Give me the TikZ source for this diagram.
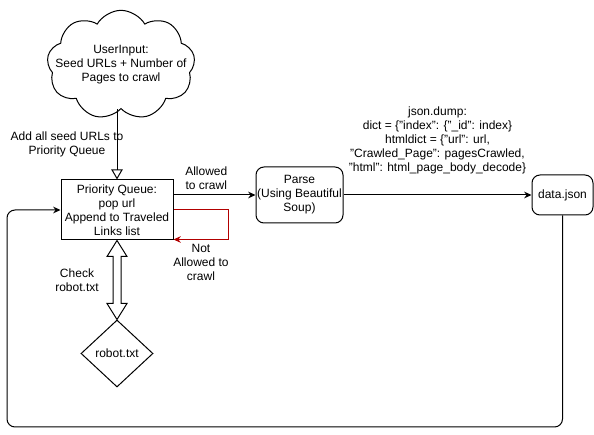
\documentclass[tikz,border=0pt]{standalone}
\usepackage{fontspec}
\setmainfont{Liberation Sans}
\usetikzlibrary{shapes.geometric,shapes.symbols,arrows.meta,calc,positioning}
\tikzset{
  box/.style={draw, fill=white, inner sep=1pt},
  roundbox/.style={box, rounded corners=6pt, inner sep=0pt},
  cloudbox/.style={cloud, draw, cloud puffs=9, cloud puff arc=120, cloud ignores aspect,
    minimum width=111pt, minimum height=82pt, inner sep=0pt},
  check/.style={diamond, draw, inner sep=0pt},
  flow/.style={-{Stealth[length=5.5pt,width=5pt]}},
  seed/.style={-{Triangle[open,length=7.5pt,width=8.5pt]}},
  deny/.style={flow, draw=cdeny},
  hollow/.style={draw, line join=miter},
}
\begin{document}
\begin{tikzpicture}[x=0.75pt,y=-0.75pt,line width=0.75pt,
  every node/.style={font=\fontsize{9}{10.5}\selectfont, align=center}]
%
\useasboundingbox (0,0) rectangle (594,435);
%
\definecolor{cdeny}{rgb}{0.7,0.0,0.0}
%
\node[cloudbox, label={center:{UserInput:\\Seed URLs + Number of\\Pages to crawl}}] (input) at (121,65) {};
\node[box, minimum width=84pt, minimum height=45pt] (queue) at (117,210) {Priority Queue:\\pop url\\Append to Traveled\\Links list};
\node[roundbox, minimum width=65.25pt, minimum height=42pt] (parse) at (299.5,195) {Parse\\(Using Beautiful\\Soup)};
\node[roundbox, minimum width=45.75pt, minimum height=30pt] (data) at (562.5,195) {data.json};
\node[check, minimum width=54pt, minimum height=50.25pt] (robot) at (117,353.5) {robot.txt};
%
\draw[seed] (queue.north |- input.south) -- (queue.north)
  node[midway, xshift=-37.5pt] {Add all seed URLs to\\Priority Queue};
\draw[flow] (queue.east |- parse) -- (parse.west)
  node[pos=0.4, above=0pt] {Allowed\\to crawl};
\draw[deny] (queue.east) -- ++(55,0) |- ([yshift=0.75pt]queue.south east)
  node[pos=0.75, below=0pt] {Not\\Allowed to\\crawl};
\draw[flow] (parse) -- (data)
  node[midway, above=12pt] {json.dump:\\dict = \{"index": \{"\_id": index\}\\htmldict = \{"url": url,\\"Crawled\_Page": pagesCrawled,\\"html": html\_page\_body\_decode\}};
\draw[flow, rounded corners=6pt] (data.south) |- (7,427) |- (queue.west);
%
\draw[hollow] (queue.south) -- ++(10,16) -- ++(-6,0) -- ($(robot.north)+(4,-16)$) -- ++(6,0)
  -- (robot.north) -- ++(-10,-16) -- ++(6,0) -- ($(queue.south)+(-4,16)$) -- ++(-6,0) -- cycle;
\node (checknote) at ($(queue.south)!0.5!(robot.north)+(-40,0)$) {Check\\robot.txt};
%
\end{tikzpicture}
\end{document}
